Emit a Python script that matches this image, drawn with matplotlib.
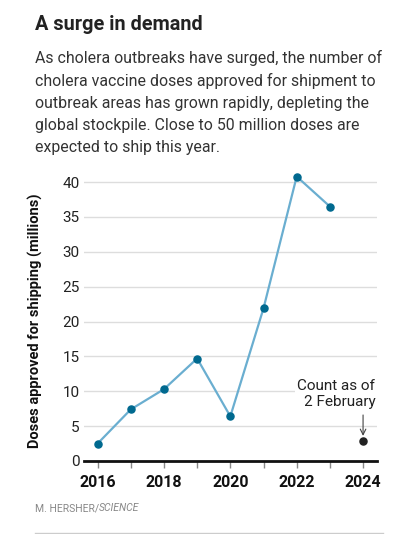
import matplotlib.pyplot as plt
from matplotlib.lines import Line2D

plt.rcParams['font.family'] = ['Roboto', 'DejaVu Sans']

years = [2016, 2017, 2018, 2019, 2020, 2021, 2022, 2023]
doses = [2.5, 7.4, 10.3, 14.7, 6.4, 21.9, 40.8, 36.5]
year_2024 = 2024
doses_2024 = 2.8

title = "A surge in demand"
subtitle = ("As cholera outbreaks have surged, the number of\n"
            "cholera vaccine doses approved for shipment to\n"
            "outbreak areas has grown rapidly, depleting the\n"
            "global stockpile. Close to 50 million doses are\n"
            "expected to ship this year.")

W, H = 408, 534
fig = plt.figure(figsize=(W / 100, H / 100), dpi=100)
ax = fig.add_axes([84 / W, 1 - 461 / H, (377 - 84) / W, (461 - 172) / H])

ax.plot(years, doses, color="#6aaed0", lw=1.6, zorder=3)
ax.scatter(years, doses, s=26, color="#00698f", zorder=4)
ax.scatter([year_2024], [doses_2024], s=26, color="#222222", zorder=4)

ax.set_xlim(2015.59, 2024.42)
ax.set_ylim(0, 41.45)
ax.set_yticks(range(0, 45, 5))
ax.set_xticks(range(2016, 2025))
ax.set_xticklabels([str(y) if y % 2 == 0 else "" for y in range(2016, 2025)],
                   fontweight="bold", fontsize=11.5)
ax.tick_params(axis="x", direction="out", length=5, width=1, color="#888888",
               pad=5, labelcolor="#111111")
ax.tick_params(axis="y", length=0, labelsize=11, pad=3, labelcolor="#222222")
ax.grid(axis="y", color="#dddddd", lw=1)
ax.set_axisbelow(True)
for s in ["top", "right", "left"]:
    ax.spines[s].set_visible(False)
ax.spines["bottom"].set_linewidth(2)
ax.spines["bottom"].set_color("#111111")
ax.spines["bottom"].set_zorder(5)

ax.set_ylabel("Doses approved for shipping (millions)", fontweight="bold",
              fontsize=10.5, color="#111111")
ax.yaxis.set_label_coords(-0.141, 0.485)

# annotation for the partial 2024 value
ax.text(2024.37, 9.6, "Count as of\n2 February", ha="right", va="center",
        fontsize=11, color="#222222", linespacing=1.2, zorder=6,
        bbox=dict(facecolor="white", edgecolor="none", pad=2))
ax.annotate("", xy=(year_2024, doses_2024 + 0.8), xytext=(year_2024, 6.6),
            arrowprops=dict(arrowstyle="->", color="#444444", lw=0.8,
                            shrinkA=0, shrinkB=0))

fig.text(35 / W, 1 - 24 / H, title, fontsize=14.3, fontweight="bold",
         color="#222222", va="center")
fig.text(35 / W, 1 - 50 / H, subtitle, fontsize=11.45, color="#333333",
         va="top", linespacing=1.57)

src = fig.text(35 / W, 1 - 508 / H, "M. HERSHER/", fontsize=7.5,
               color="#888888", va="center")
fig.canvas.draw()
ext = src.get_window_extent()
fig.text(ext.x1 / (W), 1 - 508 / H, "SCIENCE", fontsize=7.5, color="#888888",
         va="center", style="italic")
fig.add_artist(Line2D([35 / W, 383 / W], [1 - 533 / H, 1 - 533 / H],
                      color="#cccccc", lw=1))

fig.savefig("out.png", dpi=100)
